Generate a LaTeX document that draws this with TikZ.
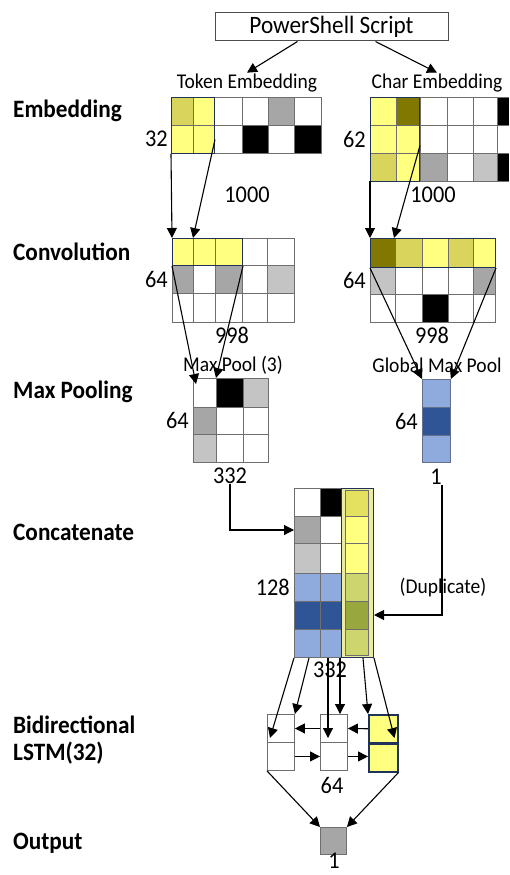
\documentclass[tikz,border=0pt]{standalone}
\usepackage{fontspec}
\setmainfont{Carlito}[FakeStretch=0.93]
\usetikzlibrary{arrows.meta, positioning}

\definecolor{celyel}{RGB}{255,255,128}
\definecolor{celkhaki}{RGB}{216,212,92}
\definecolor{celolive}{RGB}{128,120,0}
\definecolor{celgray}{RGB}{166,166,166}
\definecolor{cellgray}{RGB}{196,196,196}
\definecolor{celblue}{RGB}{143,170,220}
\definecolor{celdblue}{RGB}{47,85,151}
\definecolor{hlnavy}{RGB}{31,50,90}
\definecolor{gridgray}{RGB}{110,110,110}
\definecolor{dupA}{RGB}{228,224,96}
\definecolor{dupB}{RGB}{205,214,110}
\definecolor{dupC}{RGB}{152,168,62}
\definecolor{duppale}{RGB}{236,236,160}

\tikzset{
  gridline/.style={draw=gridgray, line width=0.9pt},
  gridbox/.style={rectangle, draw=gridgray, line width=0.9pt, inner sep=0pt, anchor=north west},
  hlbox/.style={rectangle, draw=hlnavy, line width=1pt, inner sep=0pt, anchor=north west},
  lstmcell/.style={rectangle, draw=gridgray, line width=0.9pt, inner sep=0pt,
    minimum width=27pt, minimum height=28pt, anchor=north west},
  caption/.style={font=\fontsize{21}{23}\selectfont, inner sep=1pt},
  dimlbl/.style={font=\fontsize{24}{26}\selectfont, inner sep=0pt},
  steplbl/.style={font=\bfseries\fontsize{25}{27}\selectfont, anchor=west, align=left, inner sep=0pt},
  arrow/.style={-{Triangle[length=10pt,width=10pt]}, line width=1.1pt}
}

\begin{document}
\begin{tikzpicture}[x=1pt, y=-1pt]
  \useasboundingbox (0,0) rectangle (509,875);

  % layer names
  \node[steplbl] (lblemb) at (13,111) {Embedding};
  \node[steplbl] (lblconv) at (13,252) {Convolution};
  \node[steplbl] (lblpool) at (13,392) {Max Pooling};
  \node[steplbl] (lblcat) at (13,532) {Concatenate};
  \node[steplbl] (lbllstm) at (13,740) {Bidirectional\\LSTM(32)};
  \node[steplbl] (lblout) at (13,843) {Output};

  % input
  \node[rectangle, draw=black!70, line width=1pt, minimum width=233pt, minimum height=28pt,
    inner sep=0pt, font=\fontsize{25}{27}\selectfont] (script) at (331.5,27) {PowerShell Script};
  \node[caption] (tokcap) at (247,83) {Token Embedding};
  \node[caption] (chrcap) at (437,83) {Char Embedding};
  \draw[arrow] ([xshift=83pt]script.south west) -- (tokcap.north);
  \draw[arrow] ([xshift=161pt]script.south west) -- (chrcap.north);

  % token embedding
  \fill[celkhaki] (171,97) rectangle (193,125);
  \fill[celyel] (193,97) rectangle (214,125);
  \fill[celyel] (171,125) rectangle (214,153);
  \fill[celgray] (268,97) rectangle (294,125);
  \fill[black] (242,125) rectangle (268,153);
  \fill[black] (294,125) rectangle (321,153);
  \node[gridbox, minimum width=150pt, minimum height=56pt] (tokemb) at (171,97) {};
  \foreach \x in {193,214,242,268,294} \draw[gridline] (\x,97) -- (\x,153);
  \draw[gridline] (171,125) -- (321,125);
  \node[hlbox, minimum width=43pt, minimum height=56pt] (tokhl) at (171,97) {};
  \node[dimlbl, anchor=east] (tokrows) at (168,139) {32};
  \node[dimlbl] (toklen) at (247,195) {1000};

  % char embedding
  \fill[celyel] (370,97) rectangle (396,153);
  \fill[celolive] (396,97) rectangle (419,125);
  \fill[celyel] (396,125) rectangle (419,181);
  \fill[celkhaki] (370,153) rectangle (396,181);
  \fill[celgray] (420,153) rectangle (447,181);
  \fill[cellgray] (473,153) rectangle (497,181);
  \fill[black] (497,97) rectangle (509,125);
  \fill[black] (497,153) rectangle (509,181);
  \node[inner sep=0pt, minimum width=139pt, minimum height=84pt, anchor=north west] (chremb) at (370,97) {};
  \draw[gridline] (509,97) -- (370,97) -- (370,181) -- (509,181);
  \foreach \x in {396,420,447,473,497} \draw[gridline] (\x,97) -- (\x,181);
  \foreach \y in {125,153} \draw[gridline] (370,\y) -- (509,\y);
  \node[hlbox, minimum width=49pt, minimum height=84pt] (chrhl) at (370,97) {};
  \node[dimlbl, anchor=east] (chrrows) at (366,139) {62};
  \node[dimlbl] (chrlen) at (433,195) {1000};

  % token convolution
  \fill[celyel] (172,238) rectangle (242,265);
  \fill[celgray] (172,265) rectangle (193,293);
  \fill[celgray] (215,265) rectangle (242,293);
  \fill[cellgray] (267,265) rectangle (294,293);
  \node[gridbox, minimum width=122pt, minimum height=84pt] (tokconv) at (172,238) {};
  \foreach \x in {193,215,242,267} \draw[gridline] (\x,238) -- (\x,322);
  \foreach \y in {265,293} \draw[gridline] (172,\y) -- (294,\y);
  \node[hlbox, minimum width=70pt, minimum height=27pt] (tokchl) at (172,238) {};
  \node[dimlbl, anchor=east] (convrows) at (168,279) {64};
  \node[dimlbl] (convlen) at (232,335) {998};

  % char convolution
  \fill[celolive] (370,238) rectangle (395,267);
  \fill[celkhaki] (395,238) rectangle (422,267);
  \fill[celyel] (422,238) rectangle (448,267);
  \fill[celkhaki] (448,238) rectangle (473,267);
  \fill[celyel] (473,238) rectangle (495,267);
  \fill[cellgray] (370,267) rectangle (395,294);
  \fill[celgray] (473,267) rectangle (495,294);
  \fill[black] (422,294) rectangle (448,322);
  \node[gridbox, minimum width=125pt, minimum height=84pt] (chrconv) at (370,238) {};
  \foreach \x in {395,422,448,473} \draw[gridline] (\x,238) -- (\x,322);
  \foreach \y in {267,294} \draw[gridline] (370,\y) -- (495,\y);
  \node[hlbox, minimum width=125pt, minimum height=29pt] (chrchl) at (370,238) {};
  \node[dimlbl, anchor=east] (cconvrows) at (366,280) {64};
  \node[dimlbl] (cconvlen) at (432,335) {998};

  \draw[arrow] (tokemb.south west) -- (tokconv.north west);
  \draw[arrow] ([yshift=-14pt]tokhl.east) -- ([xshift=21pt]tokconv.north west);
  \draw[arrow] (chremb.south west) -- (chrconv.north west);
  \draw[arrow] ([yshift=-6pt]chrhl.east) -- ([xshift=24pt]chrconv.north west);

  % max pooling
  \node[caption] (poolcap) at (233,365) {Max Pool (3)};
  \fill[black] (216,378) rectangle (243,407);
  \fill[cellgray] (243,378) rectangle (268,407);
  \fill[celgray] (193,407) rectangle (216,434);
  \fill[cellgray] (193,434) rectangle (216,462);
  \node[gridbox, minimum width=75pt, minimum height=84pt] (maxpool) at (193,378) {};
  \foreach \x in {216,243} \draw[gridline] (\x,378) -- (\x,462);
  \foreach \y in {407,434} \draw[gridline] (193,\y) -- (268,\y);
  \node[dimlbl, anchor=east] (poolrows) at (189,420) {64};
  \node[dimlbl] (poolout) at (230,476) {332};

  % global max pooling
  \node[caption] (gmpcap) at (437,365) {Global Max Pool};
  \fill[celblue] (422,379) rectangle (450,407);
  \fill[celdblue] (422,407) rectangle (450,435);
  \fill[celblue] (422,435) rectangle (450,462);
  \node[gridbox, draw=hlnavy!70, minimum width=28pt, minimum height=83pt] (gmp) at (422,379) {};
  \foreach \y in {407,435} \draw[gridline, draw=hlnavy!70] (422,\y) -- (450,\y);
  \node[dimlbl, anchor=east] (gmprows) at (418,421) {64};
  \node[dimlbl] (gmpout) at (436,477) {1};

  \draw[arrow] (tokchl.south west) -- ([xshift=3pt,yshift=-6pt]maxpool.north west);
  \draw[arrow] (tokchl.south east) -- ([xshift=23pt]maxpool.north west);
  \draw[arrow] (chrchl.south west) -- (gmp.north west);
  \draw[arrow] (chrchl.south east) -- (gmp.north east);

  % concatenation
  \fill[black] (320,488) rectangle (343,516);
  \fill[celgray] (294,516) rectangle (320,543);
  \fill[cellgray] (294,543) rectangle (320,573);
  \fill[celblue] (294,573) rectangle (343,601);
  \fill[celdblue] (294,601) rectangle (343,629);
  \fill[celblue] (294,629) rectangle (343,657);
  \node[gridbox, minimum width=49pt, minimum height=169pt] (concat) at (294,488) {};
  \draw[gridline] (320,488) -- (320,657);
  \foreach \y in {516,543,573,601,629} \draw[gridline] (294,\y) -- (343,\y);
  \node[hlbox, fill=duppale, minimum width=32pt, minimum height=169pt] (dupcol) at (341,488) {};
  \foreach \ya/\yb/\c in {490/516/dupA, 516/543/celyel, 543/573/celyel, 573/601/dupB, 601/629/dupC, 629/655/dupB}
    \draw[gridline, fill=\c] (345,\ya) rectangle (368,\yb);
  \node[dimlbl, anchor=east] (catrows) at (290,587) {128};
  \node[caption] (dupcap) at (443,588) {(Duplicate)};
  \node[dimlbl] (catout) at (330,670) {332};

  \draw[arrow] (poolout.south) |- ([yshift=-42pt]concat.north west);
  \draw[arrow] ([xshift=6pt]gmpout.south) |- ([yshift=-127pt]dupcol.north east);

  % bidirectional lstm
  \node[lstmcell] (lstmA1) at (267,714) {};
  \node[lstmcell] (lstmA2) at (267,742) {};
  \node[lstmcell] (lstmB1) at (320,714) {};
  \node[lstmcell] (lstmB2) at (320,742) {};
  \node[lstmcell, fill=celyel, draw=hlnavy, line width=1.5pt, minimum width=29pt] (lstmC1) at (368,714) {};
  \node[lstmcell, fill=celyel, draw=hlnavy, line width=1.5pt, minimum width=29pt] (lstmC2) at (368,743) {};
  \node[dimlbl] (lstmdim) at (332,785) {64};

  \draw[arrow] (lstmB1.west) -- (lstmA1.east);
  \draw[arrow] (lstmC1.west) -- (lstmB1.east);
  \draw[arrow] (lstmA2.east) -- (lstmB2.west);
  \draw[arrow] (lstmB2.east) -- (lstmC2.west |- lstmB2.east);

  \draw[arrow] (concat.south west) -- ([xshift=3pt,yshift=-24pt]lstmA1.north west);
  \draw[arrow] ([xshift=15pt]concat.south west) -- (lstmA1.north east);
  \draw[arrow] ([xshift=34pt]concat.south west) -- ([xshift=8pt,yshift=-24pt]lstmB1.north west);
  \draw[arrow] ([xshift=46pt]concat.south west) -- ([xshift=20pt]lstmB1.north west);
  \draw[arrow] ([xshift=-11pt]dupcol.south east) -- (lstmC1.north west);
  \draw[arrow] (dupcol.south east) -- ([xshift=-4pt,yshift=-24pt]lstmC1.north east);

  % output
  \node[rectangle, draw=gridgray, line width=0.9pt, fill=celgray, inner sep=0pt,
    minimum width=26pt, minimum height=27pt, anchor=north west] (out) at (320,827) {};
  \node[dimlbl] (outdim) at (334,861) {1};
  \draw[arrow] (lstmA2.south west) -- (out.north west);
  \draw[arrow] (lstmC2.south east) -- (out.north east);
\end{tikzpicture}
\end{document}
